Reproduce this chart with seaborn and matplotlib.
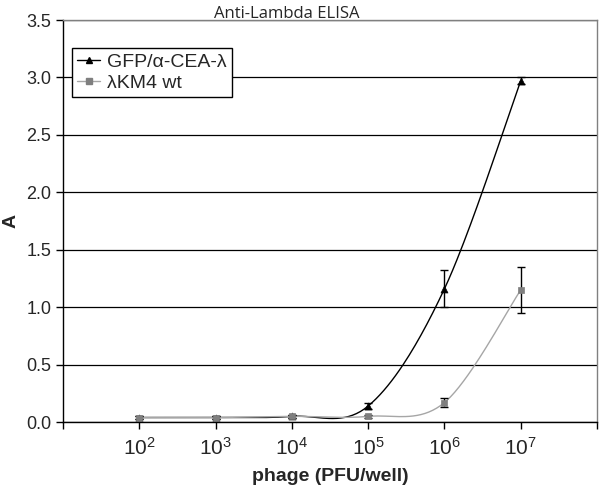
import numpy as np
import pandas as pd
import matplotlib
matplotlib.use("Agg")
import matplotlib.pyplot as plt
import seaborn as sns
from matplotlib.lines import Line2D

# ---- data ----
log_phage = [2, 3, 4, 5, 6, 7]
tick_labels = ["$10^{2}$", "$10^{3}$", "$10^{4}$", "$10^{5}$", "$10^{6}$", "$10^{7}$"]
gfp_vals = [0.04, 0.04, 0.05, 0.14, 1.16, 2.97]
gfp_err = [0.01, 0.01, 0.01, 0.03, 0.16, 0.03]
km4_vals = [0.04, 0.04, 0.05, 0.05, 0.17, 1.15]
km4_err = [0.01, 0.01, 0.01, 0.01, 0.04, 0.20]
series_names = ["GFP/α-CEA-λ", "λKM4 wt"]

sns.set_theme(style="white")
plt.rcParams["font.family"] = ["Liberation Sans", "DejaVu Sans"]
plt.rcParams["mathtext.fontset"] = "custom"
plt.rcParams["mathtext.rm"] = "Liberation Sans"
plt.rcParams["mathtext.it"] = "Liberation Sans"


def smooth(xs, ys, n=40):
    """Excel-like smoothed line (Catmull-Rom via Bezier, tension 1/6)."""
    xs = np.asarray(xs, float)
    ys = np.asarray(ys, float)
    px = np.concatenate([[xs[0]], xs, [xs[-1]]])
    py = np.concatenate([[ys[0]], ys, [ys[-1]]])
    ox, oy = [], []
    for i in range(1, len(px) - 2):
        p0 = np.array([px[i - 1], py[i - 1]])
        p1 = np.array([px[i], py[i]])
        p2 = np.array([px[i + 1], py[i + 1]])
        p3 = np.array([px[i + 2], py[i + 2]])
        c1 = p1 + (p2 - p0) / 6.0
        c2 = p2 - (p3 - p1) / 6.0
        t = np.linspace(0, 1, n)[:, None]
        b = ((1 - t) ** 3) * p1 + 3 * ((1 - t) ** 2) * t * c1 + 3 * (1 - t) * t ** 2 * c2 + t ** 3 * p2
        ox.extend(b[:, 0])
        oy.extend(b[:, 1])
    return np.array(ox), np.array(oy)


fig = plt.figure(figsize=(6.0, 4.88), dpi=100)
ax = fig.add_axes([0.105, 0.135, 0.89, 0.824])

colors = ["black", "#7f7f7f"]
line_colors = ["black", "#a6a6a6"]
markers = ["^", "s"]
msizes = [5, 4]

for name, vals, errs, col, lcol, mk, ms in zip(series_names, [gfp_vals, km4_vals],
                                                [gfp_err, km4_err], colors, line_colors,
                                                markers, msizes):
    sx, sy = smooth(log_phage, vals)
    sdf = pd.DataFrame({"x": sx, "y": sy})
    sns.lineplot(data=sdf, x="x", y="y", ax=ax, color=lcol, lw=1.0, sort=False,
                 estimator=None)
    ax.errorbar(log_phage, vals, yerr=errs, fmt="none", ecolor="black",
                elinewidth=1.0, capsize=3, capthick=1.0, zorder=3)
    pdf = pd.DataFrame({"x": log_phage, "y": vals})
    sns.scatterplot(data=pdf, x="x", y="y", ax=ax, marker=mk, color=col, s=ms ** 2,
                    edgecolor=col, linewidth=0.5, zorder=4)

ax.set_xlim(1, 8)
ax.set_ylim(0, 3.5)
ax.set_yticks(np.arange(0, 3.51, 0.5))
ax.set_yticklabels([f"{v:.1f}" for v in np.arange(0, 3.51, 0.5)], fontsize=13)
ax.set_xticks(range(1, 9))
ax.set_xticklabels([""] + tick_labels + [""], fontsize=15)
ax.tick_params(axis="both", direction="out", length=5, width=1, color="black",
               bottom=True, left=True)
ax.tick_params(axis="x", pad=6)
ax.yaxis.grid(True, color="black", lw=0.9)
ax.xaxis.grid(False)
ax.set_axisbelow(True)
for s in ax.spines.values():
    s.set_color("black")
    s.set_linewidth(1.0)
ax.spines["top"].set_color("#808080")
ax.spines["right"].set_color("#808080")

ax.set_xlabel("phage (PFU/well)", fontsize=14, fontweight="bold", labelpad=6)
ax.set_ylabel("A", fontsize=14, fontweight="bold", labelpad=5)
fig.text(0.478, 0.972, "Anti-Lambda ELISA", ha="center", va="center", fontsize=12,
         family=["Open Sans", "DejaVu Sans"])

handles = [
    Line2D([], [], color="black", lw=1.0, marker="^", ms=5, markerfacecolor="black"),
    Line2D([], [], color="#a6a6a6", lw=1.0, marker="s", ms=4,
           markerfacecolor="#7f7f7f", markeredgecolor="#7f7f7f"),
]
leg = ax.legend(handles, series_names, loc="upper left", bbox_to_anchor=(0.017, 0.93),
                borderaxespad=0, fontsize=14, frameon=True, fancybox=False,
                edgecolor="black", handlelength=1.2, handletextpad=0.35, borderpad=0.25,
                labelspacing=0.2, framealpha=1)
leg.get_frame().set_linewidth(1.0)

fig.savefig("out.png", dpi=100)
